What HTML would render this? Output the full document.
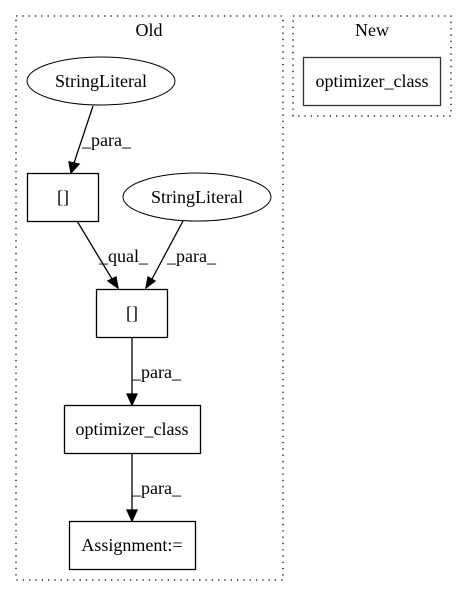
<!DOCTYPE html>
<html><head><meta charset="utf-8"><style>body{margin:0;background:#fff}</style></head>
<body>
<svg width="467" height="596" xmlns="http://www.w3.org/2000/svg" font-family="Liberation Serif, serif" font-size="18">
<rect x="16" y="16" width="267" height="564" fill="none" stroke="#000" stroke-width="1.3" stroke-dasharray="1.3,5"/>
<rect x="293" y="16" width="158" height="100" fill="none" stroke="#000" stroke-width="1.3" stroke-dasharray="1.3,5"/>
<text x="149" y="36" text-anchor="middle">Old</text>
<text x="372" y="36" text-anchor="middle">New</text>
<rect x="303.5" y="57.5" width="137" height="48" fill="none" stroke="#333" stroke-width="1.3"/>
<text x="372" y="87" text-anchor="middle">optimizer_class</text>
<ellipse cx="101" cy="81" rx="74" ry="24" fill="none" stroke="#000"/>
<text x="101" y="87" text-anchor="middle">StringLiteral</text>
<rect x="27.5" y="173.5" width="71" height="48" fill="none" stroke="#000" stroke-width="1.3"/>
<text x="63" y="203" text-anchor="middle">[]</text>
<ellipse cx="197" cy="197" rx="74" ry="24" fill="none" stroke="#000"/>
<text x="197" y="203" text-anchor="middle">StringLiteral</text>
<rect x="96.5" y="289.5" width="71" height="48" fill="none" stroke="#000" stroke-width="1.3"/>
<text x="132" y="319" text-anchor="middle">[]</text>
<rect x="64.5" y="405.5" width="136" height="48" fill="none" stroke="#000" stroke-width="1.3"/>
<text x="132" y="435" text-anchor="middle">optimizer_class</text>
<rect x="69.5" y="521.5" width="126" height="48" fill="none" stroke="#000" stroke-width="1.3"/>
<text x="132" y="551" text-anchor="middle">Assignment:=</text>
<g stroke="#000" fill="#000" stroke-width="1.3">
<line x1="93" y1="106" x2="74" y2="163"/><polygon points="69,162 71,173 79,164"/>
<line x1="77" y1="221" x2="112" y2="279"/><polygon points="108,281 118,288 116,277"/>
<line x1="183" y1="221" x2="152" y2="279"/><polygon points="148,277 146,288 155,281"/>
<line x1="132" y1="338" x2="132" y2="394"/><polygon points="127,394 132,405 137,394"/>
<line x1="132" y1="454" x2="132" y2="510"/><polygon points="127,510 132,521 137,510"/>
</g>
<text x="82" y="146">_para_</text>
<text x="99" y="262">_qual_</text>
<text x="167" y="262">_para_</text>
<text x="132" y="378">_para_</text>
<text x="132" y="494">_para_</text>
</svg>
</body></html>
